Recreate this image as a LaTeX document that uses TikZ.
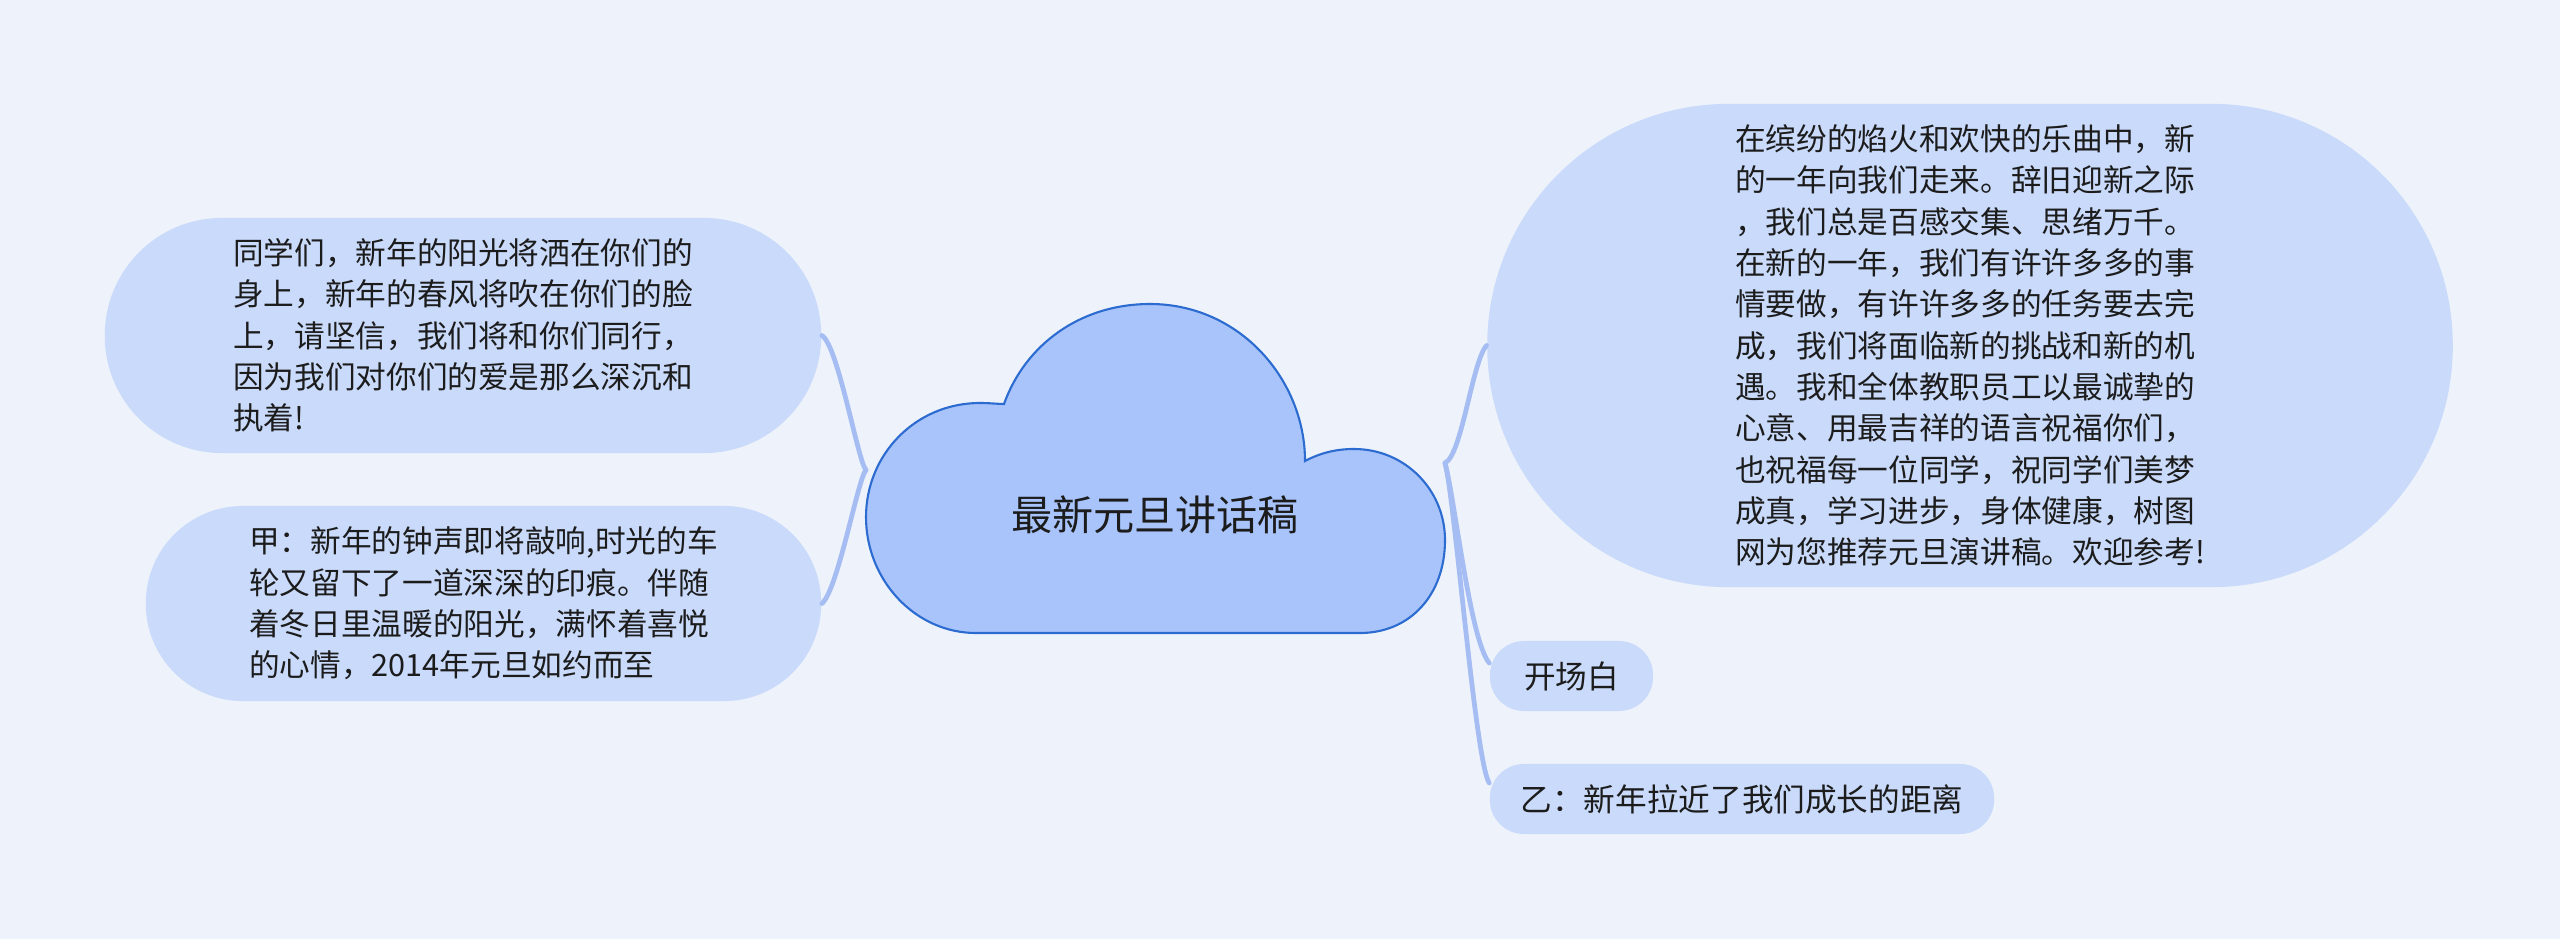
\documentclass[tikz,border=0pt]{standalone}
\usepackage{fontspec}
\newfontfamily\cjk{Noto Sans CJK SC}
\usetikzlibrary{calc}
\definecolor{bg}{HTML}{EEF3FB}
\definecolor{pill}{HTML}{C9DAFA}
\definecolor{cloudfill}{HTML}{A9C4FB}
\definecolor{cloudline}{HTML}{2C6CD0}
\definecolor{linkc}{HTML}{A5BDF2}
\definecolor{txt}{HTML}{1C1C1C}
\begin{document}
\begin{tikzpicture}[x=0.01cm,y=-0.01cm,
  pillbox/.style={fill=pill, draw=none, inner sep=0pt, align=left, text=txt,
    font=\cjk\fontsize{8.72}{11.75}\selectfont},
  linkline/.style={draw=linkc, line width=1.35pt, line cap=round}]
\fill[bg] (0,0) rectangle (2560,939);
\useasboundingbox (0,0) rectangle (2560,939);

% cloud
\draw[fill=cloudfill, draw=cloudline, line width=0.6pt]
  (1004,404) .. controls (1025,345) and (1080,304) .. (1150,304)
  .. controls (1240,304) and (1305,380) .. (1305,461)
  .. controls (1322,452) and (1338,449) .. (1354,449)
  .. controls (1405,449) and (1445,490) .. (1445,540)
  .. controls (1445,595) and (1410,633) .. (1360,633)
  -- (976,633)
  .. controls (915,633) and (866,580) .. (866,517)
  .. controls (866,455) and (915,403) .. (980,403)
  .. controls (990,403) and (998,404) .. (1004,404) -- cycle;
\node[text=txt, font=\cjk\fontsize{11.7}{14}\selectfont] (root) at (1155,515) {最新元旦讲话稿};

\coordinate (jl) at (866,470);
\coordinate (jr) at (1445,463);

\node[pillbox, minimum width=7.16cm, minimum height=2.35cm, rounded corners=1.17cm] (tl) at (463,335.5)
 {同学们，新年的阳光将洒在你们的\\身上，新年的春风将吹在你们的脸\\上，请坚信，我们将和你们同行，\\因为我们对你们的爱是那么深沉和\\执着!};
\node[pillbox, minimum width=6.75cm, minimum height=1.95cm, rounded corners=0.97cm] (bl) at (483.5,603.5)
 {甲：新年的钟声即将敲响,时光的车\\轮又留下了一道深深的印痕。伴随\\着冬日里温暖的阳光，满怀着喜悦\\的心情，2014年元旦如约而至};
\node[pillbox, minimum width=9.65cm, minimum height=4.83cm, rounded corners=2.41cm] (rb) at (1970,345.5)
 {在缤纷的焰火和欢快的乐曲中，新\\的一年向我们走来。辞旧迎新之际\\，我们总是百感交集、思绪万千。\\在新的一年，我们有许许多多的事\\情要做，有许许多多的任务要去完\\成，我们将面临新的挑战和新的机\\遇。我和全体教职员工以最诚挚的\\心意、用最吉祥的语言祝福你们，\\也祝福每一位同学，祝同学们美梦\\成真，学习进步，身体健康，树图\\网为您推荐元旦演讲稿。欢迎参考!};
\node[pillbox, minimum width=1.63cm, minimum height=0.70cm, rounded corners=0.34cm, font=\cjk\fontsize{9}{11}\selectfont] (ks) at (1571.5,676) {开场白};
\node[pillbox, minimum width=5.04cm, minimum height=0.70cm, rounded corners=0.34cm, font=\cjk\fontsize{9}{11}\selectfont] (yi) at (1742,799) {乙：新年拉近了我们成长的距离};

\draw[linkline] (jl) .. controls (858,462) and (838,345) .. (tl.east);
\draw[linkline] (jl) .. controls (858,478) and (838,590) .. (bl.east);
\draw[linkline] (jr) .. controls (1462,455) and (1472,362) .. (rb.west);
\draw[linkline] (jr) .. controls (1455,500) and (1470,640) .. ($(ks.west)+(0,-13)$);
\draw[linkline] (jr) .. controls (1455,500) and (1475,760) .. ($(yi.west)+(0,-16)$);
\end{tikzpicture}
\end{document}
